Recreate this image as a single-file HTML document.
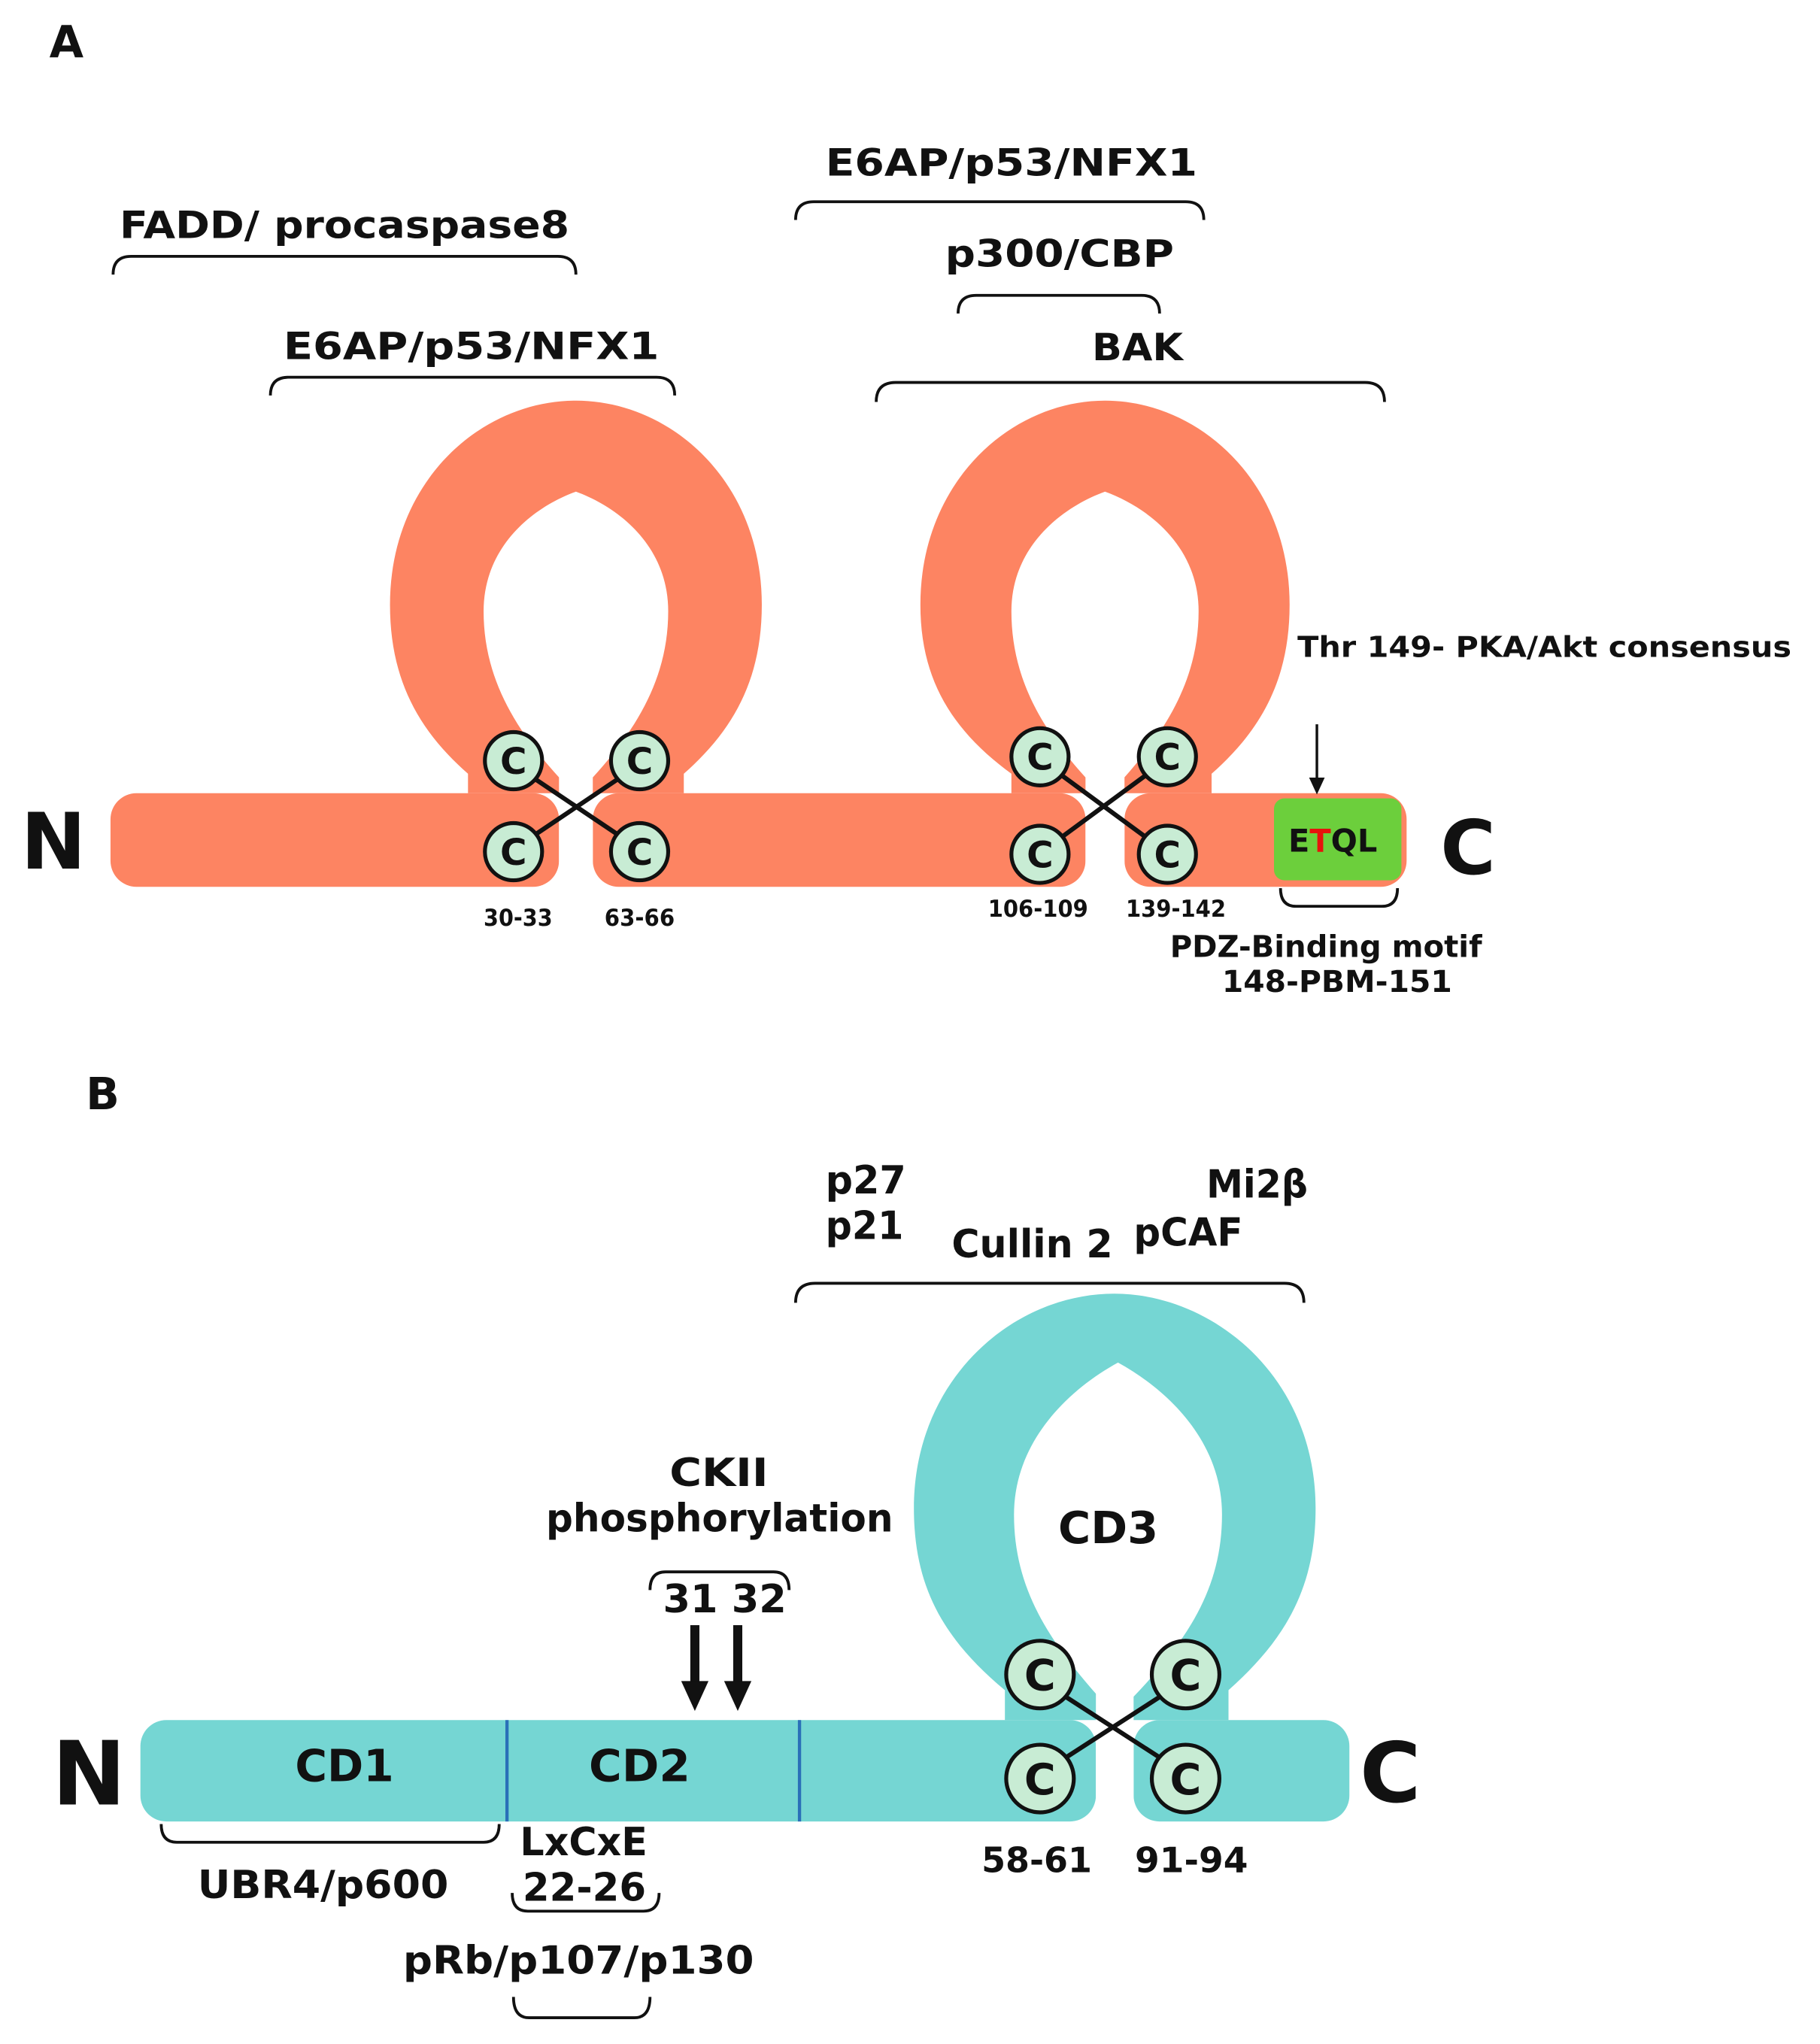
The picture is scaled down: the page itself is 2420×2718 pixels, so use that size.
<!DOCTYPE html>
<html><head><meta charset="utf-8"><style>
html,body{margin:0;padding:0;background:#fff;}
svg{display:block;}
text{font-family:"DejaVu Sans","Liberation Sans",sans-serif;font-weight:bold;fill:#111;}
</style></head><body>
<svg width="2420" height="2718" viewBox="0 0 1400 1572" xmlns="http://www.w3.org/2000/svg">
<g fill="none" stroke="#111" stroke-width="2.2">
<path d="M87,211 Q87,197 101,197 L429,197 Q443,197 443,211"/>
<path d="M208,304 Q208,290 222,290 L505,290 Q519,290 519,304"/>
<path d="M612,169 Q612,155 626,155 L912,155 Q926,155 926,169"/>
<path d="M737,241 Q737,227 751,227 L878,227 Q892,227 892,241"/>
<path d="M674,309 Q674,294 689,294 L1050,294 Q1065,294 1065,309"/>
<path d="M985,683 Q985,697 997,697 L1063,697 Q1075,697 1075,683"/>
<path d="M612,1002 Q612,987 627,987 L988,987 Q1003,987 1003,1002"/>
<path d="M500,1223 Q500,1209 512,1209 L595,1209 Q607,1209 607,1223"/>
<path d="M124,1403 Q124,1417 136,1417 L372,1417 Q384,1417 384,1403"/>
<path d="M394,1456 Q394,1470 406,1470 L495,1470 Q507,1470 507,1456"/>
<path d="M395,1536 Q395,1552 407,1552 L488,1552 Q500,1552 500,1536"/>
</g>

<!-- Panel A protein -->
<g fill="#fd8462">
<rect x="85" y="610" width="345" height="72" rx="20"/>
<rect x="456" y="610" width="379" height="72" rx="20"/>
<rect x="865" y="610" width="217" height="72" rx="20"/>
<path d="M360,610 L360,595 C320,560 300,520 300,465 C300,370 370,308 443,308 C516,308 586,370 586,465 C586,520 566,560 526,595 L526,610 Z"/>
<path d="M778,610 L778,595 C730,560 708,520 708,465 C708,370 778,308 850,308 C922,308 992,370 992,465 C992,520 972,560 932,595 L932,610 Z"/>
</g>
<g fill="#fff">
<rect x="430" y="560" width="26" height="130"/>
<rect x="835" y="560" width="30" height="130"/>
<path d="M432,600 C395,560 372,520 372,470 C372,420 410,390 443,378 C476,390 514,420 514,470 C514,520 491,560 454,600 Z"/>
<path d="M837,600 C800,560 778,520 778,470 C778,420 817,390 850,378 C883,390 922,420 922,470 C922,520 899,560 863,600 Z"/>
</g>
<rect x="980" y="614" width="98" height="63" rx="8" fill="#6ccf3c"/>
<text x="991" y="655" font-size="24">E<tspan fill="#e8120c">T</tspan>QL</text>
<line x1="1013" y1="557" x2="1013" y2="600" stroke="#111" stroke-width="2"/>
<path d="M1007,598 L1019,598 L1013,611 Z" fill="#111"/>

<!-- Panel B protein -->
<g fill="#75d6d3">
<rect x="108" y="1323" width="735" height="78" rx="20"/>
<rect x="872" y="1323" width="166" height="78" rx="20"/>
<path d="M773,1323 L773,1300 C725,1260 703,1220 703,1160 C703,1060 780,995 857,995 C934,995 1012,1060 1012,1160 C1012,1220 990,1260 945,1300 L945,1323 Z"/>
</g>
<g fill="#fff">
<rect x="843" y="1270" width="29" height="140"/>
<path d="M845,1305 C805,1260 780,1220 780,1165 C780,1110 820,1070 860,1048 C900,1070 940,1110 940,1165 C940,1220 915,1260 872,1305 Z"/>
</g>
<g stroke="#2a70b8" stroke-width="2.5">
<line x1="390" y1="1323" x2="390" y2="1401"/><line x1="615" y1="1323" x2="615" y2="1401"/>
</g>

<g stroke="#111" stroke-width="3.5">
<line x1="410" y1="598" x2="477" y2="643"/><line x1="410" y1="643" x2="477" y2="598"/>
<line x1="815" y1="595" x2="883" y2="645"/><line x1="815" y1="645" x2="883" y2="595"/>
<line x1="815" y1="1302" x2="897" y2="1355"/><line x1="815" y1="1355" x2="897" y2="1302"/>
</g>
<g fill="#c8ecd4" stroke="#111" stroke-width="3">
<circle cx="395" cy="585" r="22"/><circle cx="395" cy="655" r="22"/>
<circle cx="492" cy="585" r="22"/><circle cx="492" cy="655" r="22"/>
<circle cx="800" cy="582" r="22"/><circle cx="800" cy="657" r="22"/>
<circle cx="898" cy="582" r="22"/><circle cx="898" cy="657" r="22"/>
<circle cx="800" cy="1288" r="26"/><circle cx="800" cy="1368" r="26"/>
<circle cx="912" cy="1288" r="26"/><circle cx="912" cy="1368" r="26"/>
</g>
<g font-size="28" text-anchor="middle">
<text x="395" y="595">C</text><text x="395" y="665">C</text>
<text x="492" y="595">C</text><text x="492" y="665">C</text>
<text x="800" y="592">C</text><text x="800" y="667">C</text>
<text x="898" y="592">C</text><text x="898" y="667">C</text>
</g>
<g font-size="33" text-anchor="middle">
<text x="800" y="1300">C</text><text x="800" y="1380">C</text>
<text x="912" y="1300">C</text><text x="912" y="1380">C</text>
</g>

<text x="38" y="44" font-size="34">A</text>
<text x="16" y="668" font-size="60">N</text>
<text x="1108" y="672" font-size="58">C</text>
<g font-size="29" lengthAdjust="spacingAndGlyphs">
<text x="92" y="183" textLength="346" lengthAdjust="spacingAndGlyphs">FADD/ procaspase8</text>
<text x="218" y="276" textLength="289" lengthAdjust="spacingAndGlyphs">E6AP/p53/NFX1</text>
<text x="635" y="135" textLength="286" lengthAdjust="spacingAndGlyphs">E6AP/p53/NFX1</text>
<text x="727" y="205" textLength="176" lengthAdjust="spacingAndGlyphs">p300/CBP</text>
<text x="840" y="277" textLength="70" lengthAdjust="spacingAndGlyphs">BAK</text>
</g>
<text x="998" y="505" font-size="22" textLength="380" lengthAdjust="spacingAndGlyphs">Thr 149- PKA/Akt consensus</text>
<g font-size="18">
<text x="372" y="712" textLength="53" lengthAdjust="spacingAndGlyphs">30-33</text>
<text x="465" y="712" textLength="54" lengthAdjust="spacingAndGlyphs">63-66</text>
<text x="760" y="705" textLength="77" lengthAdjust="spacingAndGlyphs">106-109</text>
<text x="866" y="705" textLength="77" lengthAdjust="spacingAndGlyphs">139-142</text>
</g>
<text x="900" y="736" font-size="23" textLength="240" lengthAdjust="spacingAndGlyphs">PDZ-Binding motif</text>
<text x="940" y="763" font-size="23" textLength="177" lengthAdjust="spacingAndGlyphs">148-PBM-151</text>

<text x="66" y="853" font-size="34">B</text>
<g fill="#111">
<rect x="531" y="1250" width="7" height="45"/>
<path d="M524,1293 L545,1293 L534.5,1316 Z"/>
<rect x="564" y="1250" width="7" height="45"/>
<path d="M557,1293 L578,1293 L567.5,1316 Z"/>
</g>
<text x="40" y="1388" font-size="68">N</text>
<text x="1046" y="1386" font-size="64">C</text>
<g font-size="34">
<text x="227" y="1370" textLength="76" lengthAdjust="spacingAndGlyphs">CD1</text>
<text x="453" y="1370" textLength="78" lengthAdjust="spacingAndGlyphs">CD2</text>
<text x="814" y="1187" textLength="77" lengthAdjust="spacingAndGlyphs">CD3</text>
</g>
<g font-size="30">
<text x="635" y="918" textLength="62" lengthAdjust="spacingAndGlyphs">p27</text>
<text x="635" y="953" textLength="60" lengthAdjust="spacingAndGlyphs">p21</text>
<text x="732" y="967" textLength="124" lengthAdjust="spacingAndGlyphs">Cullin 2</text>
<text x="872" y="958" textLength="84" lengthAdjust="spacingAndGlyphs">pCAF</text>
<text x="928" y="921" textLength="78" lengthAdjust="spacingAndGlyphs">Mi2β</text>
<text x="515" y="1143" textLength="76" lengthAdjust="spacingAndGlyphs">CKII</text>
<text x="420" y="1178" textLength="267" lengthAdjust="spacingAndGlyphs">phosphorylation</text>
<text x="510" y="1240" textLength="95" lengthAdjust="spacingAndGlyphs">31 32</text>
<text x="152" y="1460" textLength="193" lengthAdjust="spacingAndGlyphs">UBR4/p600</text>
<text x="400" y="1427" textLength="98" lengthAdjust="spacingAndGlyphs">LxCxE</text>
<text x="402" y="1462" textLength="95" lengthAdjust="spacingAndGlyphs">22-26</text>
<text x="310" y="1518" textLength="270" lengthAdjust="spacingAndGlyphs">pRb/p107/p130</text>
</g>
<g font-size="27">
<text x="755" y="1440" textLength="85" lengthAdjust="spacingAndGlyphs">58-61</text>
<text x="873" y="1440" textLength="87" lengthAdjust="spacingAndGlyphs">91-94</text>
</g>
</svg>
</body></html>
